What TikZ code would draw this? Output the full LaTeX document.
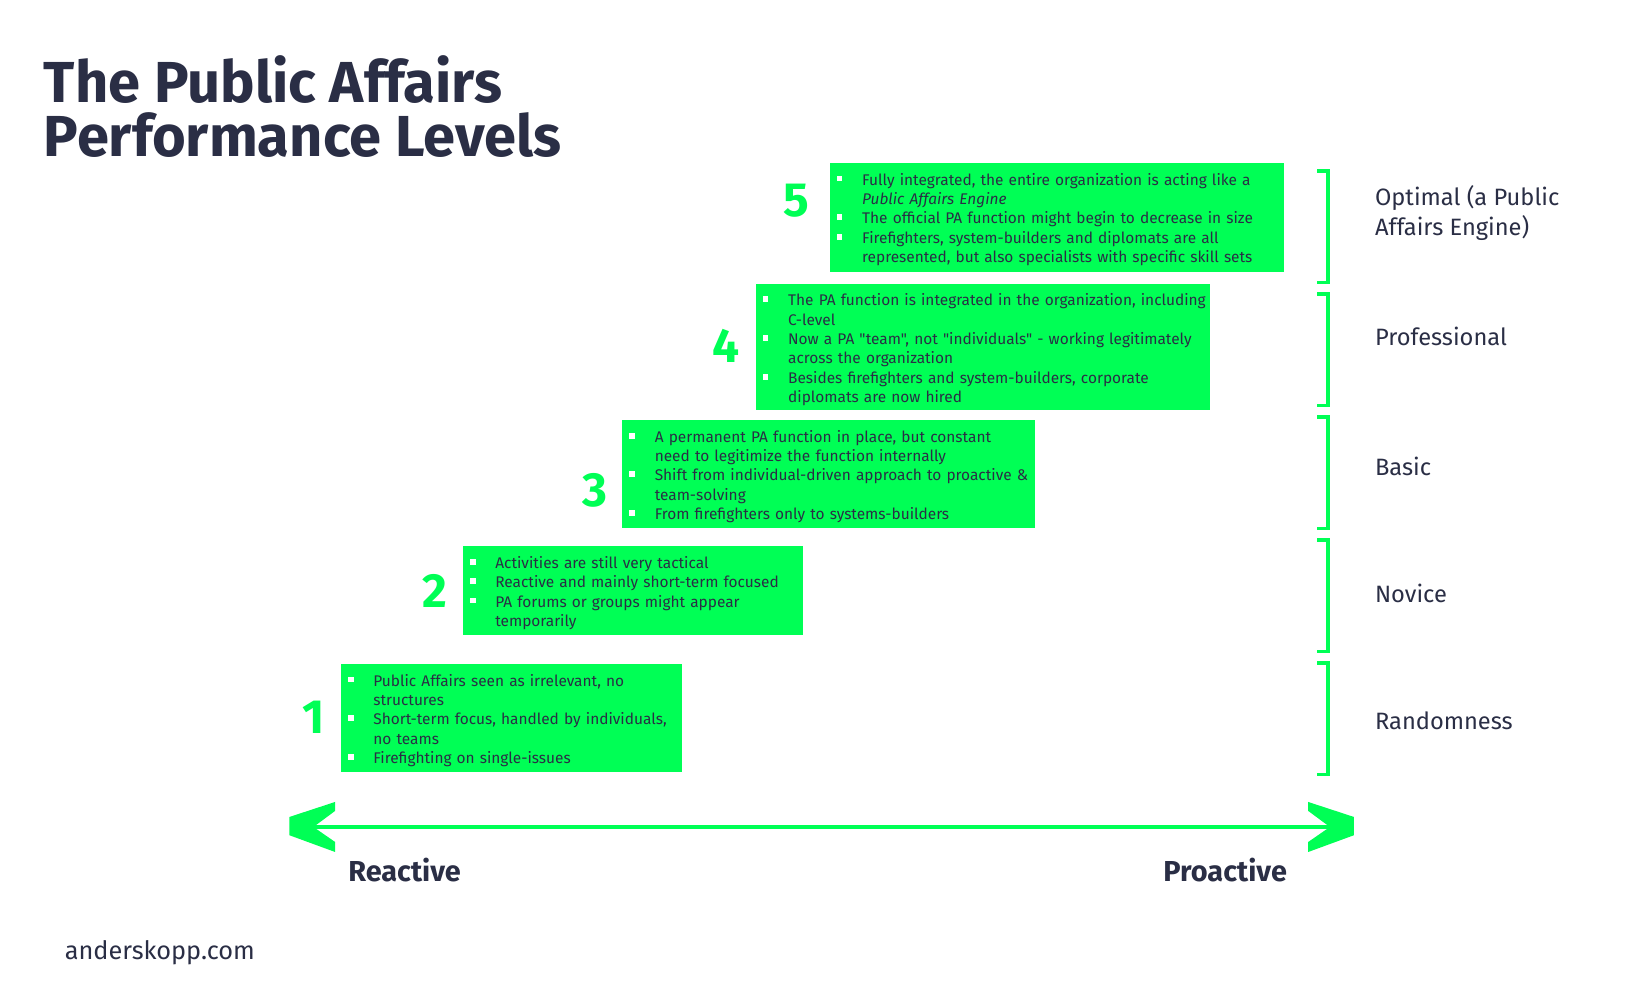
\documentclass[tikz,border=0pt]{standalone}
\usepackage{fontspec}
\setmainfont{Fira Sans}[Ligatures=TeXOff]
\definecolor{pagreen}{HTML}{00FF55}
\definecolor{panavy}{HTML}{2A2E45}
\newcommand\pabul{\leavevmode\llap{\textcolor{white}{\rule[3.5bp]{5.6bp}{5.6bp}}\hspace{19bp}}}
\tikzset{
  levelbox/.style={fill=pagreen, draw=none, anchor=north west, inner sep=0pt, minimum width=#1},
  leveltext/.style={anchor=north west, inner sep=0pt, align=left, text=panavy,
    font=\fontsize{14.8bp}{18.6bp}\selectfont, text width=460bp},
  levelnum/.style={text=pagreen, font=\fontsize{46bp}{46bp}\selectfont\bfseries, inner sep=0pt},
  bracketline/.style={draw=pagreen, line width=3.2bp},
  levellabel/.style={text=panavy, font=\fontsize{22.7bp}{28.8bp}\selectfont, inner sep=0pt, align=left},
  axislabel/.style={text=panavy, font=\fontsize{27.7bp}{30bp}\selectfont\bfseries, inner sep=0pt, anchor=base west},
  arrowhead/.style={fill=pagreen, draw=none},
}
\begin{document}
\begin{tikzpicture}[x=1bp,y=-1bp]
\useasboundingbox (0,0) rectangle (1560,946);
\fill[white] (0,0) rectangle (1560,946);

% title
\node[anchor=north west, inner sep=0pt, align=left, text=panavy,
  font=\fontsize{55.5bp}{52bp}\selectfont\bfseries] (title) at (42,53)
  {\rule{0pt}{45bp}The Public Affairs\\Performance Levels};

% boxes
\node[levelbox=436bp, minimum height=104.6bp] (b5) at (796,156.4) {};
\node[levelbox=436bp, minimum height=121bp] (b4) at (725,272) {};
\node[levelbox=396bp, minimum height=103bp] (b3) at (597,403) {};
\node[levelbox=326bp, minimum height=85bp] (b2) at (444,524) {};
\node[levelbox=327bp, minimum height=103bp] (b1) at (327,637) {};

% texts
\node[leveltext] (t5) at ([xshift=31bp,yshift=-8bp]b5.north west)
 {\strut\pabul Fully integrated, the entire organization is acting like a\\
  \textit{Public Affairs Engine}\\
  \pabul The official PA function might begin to decrease in size\\
  \pabul Firefighters, system-builders and diplomats are all\\
  represented, but also specialists with specific skill sets};
\node[leveltext] (t4) at ([xshift=31bp,yshift=-8bp]b4.north west)
 {\strut\pabul The PA function is integrated in the organization, including\\
  C-level\\
  \pabul Now a PA "team", not "individuals" - working legitimately\\
  across the organization\\
  \pabul Besides firefighters and system-builders, corporate\\
  diplomats are now hired};
\node[leveltext] (t3) at ([xshift=31bp,yshift=-8bp]b3.north west)
 {\strut\pabul A permanent PA function in place, but constant\\
  need to legitimize the function internally\\
  \pabul Shift from individual-driven approach to proactive \&\\
  team-solving\\
  \pabul From firefighters only to systems-builders};
\node[leveltext] (t2) at ([xshift=31bp,yshift=-8bp]b2.north west)
 {\strut\pabul Activities are still very tactical\\
  \pabul Reactive and mainly short-term focused\\
  \pabul PA forums or groups might appear\\
  temporarily};
\node[leveltext] (t1) at ([xshift=31bp,yshift=-8bp]b1.north west)
 {\strut\pabul Public Affairs seen as irrelevant, no\\
  structures\\
  \pabul Short-term focus, handled by individuals,\\
  no teams\\
  \pabul Firefighting on single-issues};

% numbers
\node[levelnum] (n5) at (764,193) {5};
\node[levelnum] (n4) at (697,332) {4};
\node[levelnum] (n3) at (571,470.5) {3};
\node[levelnum] (n2) at (417,567) {2};
\node[levelnum] (n1) at (300.5,688) {1};

% brackets
\foreach \t [count=\i] in {164,282,400,518,636}{
  \draw[bracketline] (1263.6,\t) -- (1274,\t) -- (1274,\t+107) -- (1263.6,\t+107);
}

% level labels
\node[levellabel, anchor=north west] (l5) at (1319,176.5) {\strut Optimal (a Public\\Affairs Engine)};
\node[levellabel, anchor=base west] (l4) at (1319,331) {Professional};
\node[levellabel, anchor=base west] (l3) at (1319,456) {Basic};
\node[levellabel, anchor=base west] (l2) at (1319,578) {Novice};
\node[levellabel, anchor=base west] (l1) at (1319,700) {Randomness};

% axis
\coordinate (aL) at (300.7,793.4);
\coordinate (aR) at (1275.9,793.4);
\draw[draw=pagreen, line width=4bp] (aL) -- (aR);
\fill[arrowhead] (321.5,769.4) -- (277.6,783.8) -- (277.6,801.3) -- (321.5,817.4)
  -- (321.5,807.8) -- (aL) -- (321.5,778) -- cycle;
\fill[arrowhead] (1255.1,769.4) -- (1299,783.8) -- (1299,801.3) -- (1255.1,817.4)
  -- (1255.1,807.8) -- (aR) -- (1255.1,778) -- cycle;

\node[axislabel] (react) at (334,846) {Reactive};
\node[axislabel] (proact) at (1116,846) {Proactive};

\node[anchor=base west, inner sep=0pt, text=panavy, font=\fontsize{24.3bp}{26bp}\selectfont] (site) at (62,920.6) {anderskopp.com};
\end{tikzpicture}
\end{document}
